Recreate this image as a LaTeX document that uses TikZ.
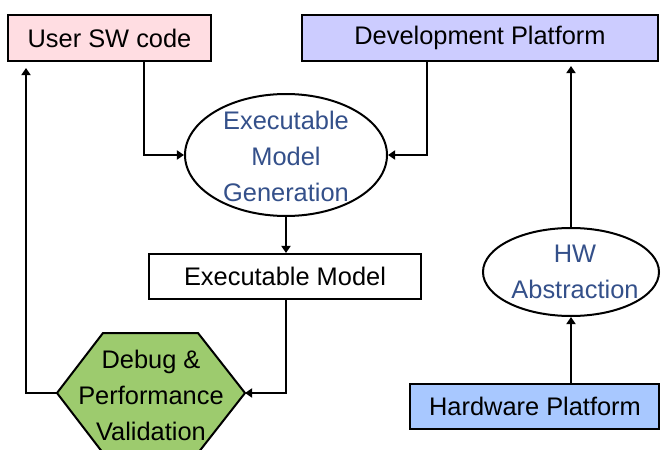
\documentclass[tikz,border=0pt]{standalone}
\usepackage{fontspec}
\setmainfont{Liberation Sans}
\usetikzlibrary{shapes.geometric,arrows.meta}
\definecolor{userpink}{HTML}{FFDDE2}
\definecolor{devlav}{HTML}{CCCCFF}
\definecolor{hwblue}{HTML}{A8C8FF}
\definecolor{dbggreen}{HTML}{9DCB6E}
\definecolor{ovaltext}{HTML}{34508A}
\tikzset{
  txt/.style={font=\fontsize{12.7}{18}\selectfont, align=center, inner sep=0pt},
  box/.style={txt, draw, line width=1pt, minimum height=23pt},
  oval/.style={ellipse, draw, line width=1pt, fill=white, inner sep=0pt},
  ovaltxt/.style={txt, text=ovaltext},
  arr/.style={line width=1pt, -{Triangle[length=3.6pt,width=4.6pt]}},
}
\begin{document}
\begin{tikzpicture}[x=0.5pt,y=-0.5pt]
\useasboundingbox (0,0) rectangle (661,450);
\clip (0,0) rectangle (661,450);

% source boxes
\node[box, fill=userpink, minimum width=101.5pt] (user) at (109.5,38) {User SW code};
\node[box, fill=devlav, minimum width=178pt] (dev) at (480,38) {Development Platform};

% model generation
\node[oval, minimum width=101pt, minimum height=61pt] (gen) at (286,155) {};
\node[ovaltxt] (gentxt) at (286,156) {Executable\\Model\\Generation};

\node[box, fill=white, minimum width=136pt, minimum height=22.5pt] (exe) at (285,276.5) {Executable Model};

% debug / validation hexagon
\coordinate (dbgL) at (57,393);
\coordinate (dbgR) at (245,393);
\filldraw[fill=dbggreen, line width=1pt]
  (dbgL) -- (103,333) -- (198,333) -- (dbgR) -- (198,453) -- (103,453) -- cycle;
\node[txt] (dbg) at (151,395) {Debug \&\\Performance\\Validation};

% hardware side
\node[oval, minimum width=88pt, minimum height=44pt] (hwa) at (571,272) {};
\node[ovaltxt] (hwatxt) at (575,272) {HW\\Abstraction};
\node[box, fill=hwblue, minimum width=124.5pt, minimum height=22.5pt] (hwp) at (535,406.5) {Hardware Platform};

% connectors
\draw[arr] ([xshift=17.25pt]user.south) |- (gen.west);
\draw[arr] ([xshift=-26.5pt]dev.south) |- (gen.east);
\draw[arr] (gen.south) -- (gen.south |- exe.north);
\draw[arr] (exe.south -| gen.south) |- (dbgR);
\draw[arr, shorten >=3pt] (dbgL) -| ([xshift=-41.75pt]user.south);
\draw[arr, shorten >=2pt] (hwa.north) -- (hwa.north |- dev.south);
\draw[arr] (hwp.north -| hwa.south) -- (hwa.south);
\end{tikzpicture}
\end{document}
